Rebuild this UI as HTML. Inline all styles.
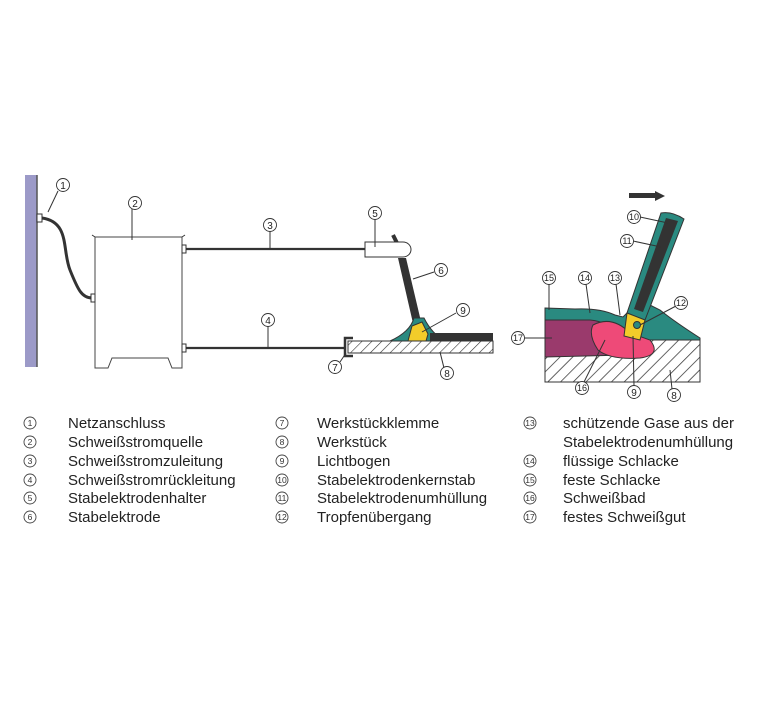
<!DOCTYPE html>
<html><head><meta charset="utf-8"><style>
html,body{margin:0;padding:0;background:#fff;}
body{width:760px;height:710px;overflow:hidden;font-family:"Liberation Sans",sans-serif;}
</style></head><body>
<svg width="760" height="710" viewBox="0 0 760 710" xmlns="http://www.w3.org/2000/svg" font-family="Liberation Sans, sans-serif">
<defs>
<pattern id="h" patternUnits="userSpaceOnUse" width="7" height="7" patternTransform="rotate(45)">
<rect width="7" height="7" fill="#fff"/><line x1="0" y1="0" x2="0" y2="7" stroke="#333" stroke-width="1.2"/>
</pattern>
<pattern id="h2" patternUnits="userSpaceOnUse" width="9" height="9" patternTransform="rotate(45)">
<rect width="9" height="9" fill="#fff"/><line x1="0" y1="0" x2="0" y2="9" stroke="#333" stroke-width="1.5"/>
</pattern>
</defs>
<g stroke="#333" fill="none" stroke-width="1">
<rect x="25" y="175" width="12" height="192" fill="#9c9ac8" stroke="none"/>
<line x1="37" y1="175" x2="37" y2="367" stroke="#555" stroke-width="1.5"/>
<rect x="37" y="214" width="5" height="8" fill="#fff"/>
<path d="M42 218 C70 222,62 250,70 270 C78 290,82 298,92 298" stroke="#333" stroke-width="3"/>
<path d="M95 237 L182 237 L182 368 L172 368 L168 358 L112 358 L108 368 L95 368 Z" fill="#fff" stroke="#444"/>
<path d="M95 237 l-3 -2 M182 237 l3 -2"/>
<rect x="91" y="294" width="4" height="8" fill="#fff"/>
<rect x="182" y="245" width="4" height="8" fill="#fff"/>
<rect x="182" y="344" width="4" height="8" fill="#fff"/>
<line x1="186" y1="249" x2="365" y2="249" stroke-width="2.2"/>
<line x1="186" y1="348" x2="346" y2="348" stroke-width="2.2"/>
<line x1="393" y1="235" x2="397" y2="243" stroke="#333" stroke-width="4"/>
<path d="M365 242 L403 242 A8 7.5 0 0 1 403 257 L365 257 Z" fill="#fff"/>
<path d="M398 258 L406 258 L423 330 L415 332 Z" fill="#333" stroke="none"/>
<path d="M390 341 Q410 332 414 318 L424 318 Q432 334 445 341 Z" fill="#2a8a80" stroke="#333"/>
<path d="M408 341 L412 326 L422 322 L428 334 L426 341 Z" fill="#f2cc2a" stroke="#333"/>
<rect x="430" y="333" width="63" height="8" fill="#333" stroke="none"/>
<rect x="348" y="341" width="145" height="12" fill="url(#h)" stroke="#333"/>
<path d="M353 338 L345 338 L345 356 L353 356" stroke="#333" stroke-width="2.5"/>
<path d="M58 191 L48 212"/><path d="M132 209 L132 240"/>
<line x1="270" y1="231" x2="270" y2="249"/><line x1="268" y1="326" x2="268" y2="348"/>
<line x1="375" y1="219" x2="375" y2="247"/><line x1="434" y1="272" x2="413" y2="279"/>
<line x1="456" y1="313" x2="422" y2="332"/><line x1="340" y1="362" x2="346" y2="353"/>
<line x1="444" y1="368" x2="440" y2="352"/>
</g>
<g font-size="10" fill="#222" text-anchor="middle">
<g fill="#fff" stroke="#333" stroke-width="0.9">
<circle cx="63" cy="185" r="6.5"/><circle cx="135" cy="203" r="6.5"/><circle cx="270" cy="225" r="6.5"/>
<circle cx="268" cy="320" r="6.5"/><circle cx="375" cy="213" r="6.5"/><circle cx="441" cy="270" r="6.5"/>
<circle cx="463" cy="310" r="6.5"/><circle cx="335" cy="367" r="6.5"/><circle cx="447" cy="373" r="6.5"/>
</g>
<text x="63" y="189">1</text><text x="135" y="207">2</text><text x="270" y="229">3</text><text x="268" y="324">4</text>
<text x="375" y="217">5</text><text x="441" y="274">6</text><text x="463" y="314">9</text><text x="335" y="371">7</text><text x="447" y="377">8</text>
</g>
<g stroke="#333" stroke-width="1">
<path d="M629 195 L655 195 L655 191 L665 196 L655 201 L655 197 Z" fill="#333" stroke="none"/>
<rect x="629" y="193" width="27" height="5" fill="#333" stroke="none"/>
<rect x="545" y="340" width="155" height="42" fill="url(#h2)"/>
<path d="M545 308 L575 309 Q600 308 615 315 L623 317 L640 300 L660 310 Q675 322 700 338 L700 340 L545 340 Z" fill="#2a8a80"/>
<path d="M545 320 L590 320 Q610 322 620 335 L625 355 L545 357 Z" fill="#9a3a6c"/>
<path d="M593 325 Q612 315 630 333 L650 340 Q662 355 640 358 Q610 360 598 350 Q588 335 593 325 Z" fill="#ee4a78"/>
<path d="M661 213 Q672 211 684 219 L645 320 L627 313 Z" fill="#2a8a80"/>
<path d="M666 218 L678 221 L643 312 L634 309 Z" fill="#333" stroke="none"/>
<path d="M627 313 L645 320 L640 340 L624 336 Z" fill="#f2cc2a"/>
<circle cx="637" cy="325" r="3.5" fill="#2a8a80"/>
</g>
<g stroke="#333" fill="none">
<line x1="640" y1="217" x2="668" y2="223"/><line x1="633" y1="241" x2="661" y2="247"/>
<line x1="549" y1="284" x2="549" y2="310"/><line x1="586" y1="284" x2="590" y2="313"/>
<line x1="616" y1="284" x2="620" y2="315"/><line x1="676" y1="306" x2="640" y2="325"/>
<line x1="524" y1="338" x2="552" y2="338"/><line x1="584" y1="382" x2="605" y2="340"/>
<line x1="634" y1="386" x2="633" y2="336"/><line x1="672" y1="389" x2="670" y2="370"/>
</g>
<g font-size="9" fill="#222" text-anchor="middle">
<g fill="#fff" stroke="#333" stroke-width="0.9">
<circle cx="634" cy="217" r="6.5"/><circle cx="627" cy="241" r="6.5"/><circle cx="549" cy="278" r="6.5"/>
<circle cx="585" cy="278" r="6.5"/><circle cx="615" cy="278" r="6.5"/><circle cx="681" cy="303" r="6.5"/>
<circle cx="518" cy="338" r="6.5"/><circle cx="582" cy="388" r="6.5"/><circle cx="634" cy="392" r="6.5"/><circle cx="674" cy="395" r="6.5"/>
</g>
<text x="634" y="220">10</text><text x="627" y="244">11</text><text x="549" y="281">15</text><text x="585" y="281">14</text>
<text x="615" y="281">13</text><text x="681" y="306">12</text><text x="518" y="341">17</text><text x="582" y="391">16</text>
<text x="634" y="396" font-size="10">9</text><text x="674" y="399" font-size="10">8</text>
</g>
<!-- legend circles -->
<g fill="none" stroke="#444" stroke-width="0.9">
<circle cx="30" cy="423" r="6"/><circle cx="30" cy="442" r="6"/><circle cx="30" cy="461" r="6"/><circle cx="30" cy="480" r="6"/><circle cx="30" cy="498" r="6"/><circle cx="30" cy="517" r="6"/>
<circle cx="282" cy="423" r="6"/><circle cx="282" cy="442" r="6"/><circle cx="282" cy="461" r="6"/><circle cx="282" cy="480" r="6"/><circle cx="282" cy="498" r="6"/><circle cx="282" cy="517" r="6"/>
<circle cx="530" cy="423" r="6"/><circle cx="530" cy="461" r="6"/><circle cx="530" cy="480" r="6"/><circle cx="530" cy="498" r="6"/><circle cx="530" cy="517" r="6"/>
</g>
<g font-size="8.5" fill="#333" text-anchor="middle">
<text x="30" y="426">1</text><text x="30" y="445">2</text><text x="30" y="464">3</text><text x="30" y="483">4</text><text x="30" y="501">5</text><text x="30" y="520">6</text>
<text x="282" y="426">7</text><text x="282" y="445">8</text><text x="282" y="464">9</text><text x="282" y="483">10</text><text x="282" y="501">11</text><text x="282" y="520">12</text>
<text x="530" y="426">13</text><text x="530" y="464">14</text><text x="530" y="483">15</text><text x="530" y="501">16</text><text x="530" y="520">17</text>
</g>
<g font-size="15" fill="#222">
<text x="68" y="428">Netzanschluss</text><text x="68" y="447">Schweißstromquelle</text><text x="68" y="466">Schweißstromzuleitung</text>
<text x="68" y="485">Schweißstromrückleitung</text><text x="68" y="503">Stabelektrodenhalter</text><text x="68" y="522">Stabelektrode</text>
<text x="317" y="428">Werkstückklemme</text><text x="317" y="447">Werkstück</text><text x="317" y="466">Lichtbogen</text>
<text x="317" y="485">Stabelektrodenkernstab</text><text x="317" y="503">Stabelektrodenumhüllung</text><text x="317" y="522">Tropfenübergang</text>
<text x="563" y="428">schützende Gase aus der</text><text x="563" y="447">Stabelektrodenumhüllung</text><text x="563" y="466">flüssige Schlacke</text>
<text x="563" y="485">feste Schlacke</text><text x="563" y="503">Schweißbad</text><text x="563" y="522">festes Schweißgut</text>
</g>
</svg>
</body></html>
